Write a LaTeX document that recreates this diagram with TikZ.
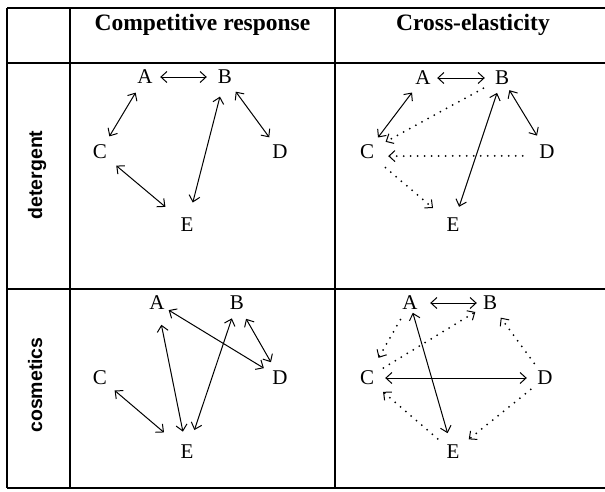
\documentclass[tikz,border=0pt]{standalone}
\usepackage{fontspec}
\setmainfont{Liberation Serif}
\setsansfont{Liberation Sans}
\usetikzlibrary{arrows.meta}
\begin{document}
\begin{tikzpicture}[x=1pt,y=-1pt,
  grid/.style={line width=1.2pt},
  letter/.style={circle,inner sep=0pt,minimum size=36pt,font=\fontsize{21}{25}\selectfont},
  hdr/.style={anchor=base,font=\fontsize{23.5}{28}\selectfont\bfseries},
  side/.style={anchor=base,rotate=90,font=\sffamily\bfseries\fontsize{19.5}{23}\selectfont},
  both/.style={line width=1pt,{Straight Barb[length=6pt,width=11pt]}-{Straight Barb[length=6pt,width=11pt]}},
  dots/.style={line width=2pt,line cap=round,dash pattern=on 0pt off 7pt,-{Straight Barb[length=6pt,width=11pt,line width=1pt]}}
]
\useasboundingbox (0,0) rectangle (605,491);
% table
\draw[grid] (7,8) -- (605,8);
\draw[grid] (7,63) -- (605,63);
\draw[grid] (7,289) -- (605,289);
\draw[grid] (7,488) -- (605,488);
\draw[grid] (7,8) -- (7,488);
\draw[grid] (70,8) -- (70,488);
\draw[grid] (335,8) -- (335,488);
% headers
\node[hdr] (h1) at (202.5,30) {Competitive response};
\node[hdr] (h2) at (473,30) {Cross-elasticity};
\node[side] (s1) at (42,175) {detergent};
\node[side] (s2) at (42,385) {cosmetics};
% panel 1
\node[letter] (p1A) at (145,77) {A};
\node[letter] (p1B) at (225,77) {B};
\node[letter] (p1C) at (100,152) {C};
\node[letter] (p1D) at (280,152) {D};
\node[letter] (p1E) at (187,225) {E};
\draw[both,shorten <=-3pt] (p1A) -- (p1B);
\draw[both] (p1A) -- (p1C);
\draw[both,shorten <=2pt,shorten >=5pt] (p1B) -- (p1E);
\draw[both] (p1B) -- (p1D);
\draw[both,shorten <=3pt,shorten >=10pt] (p1C) -- (p1E);
% panel 2
\node[letter] (p2A) at (423,78) {A};
\node[letter] (p2B) at (502,78) {B};
\node[letter] (p2C) at (367,152) {C};
\node[letter] (p2D) at (547,152) {D};
\node[letter] (p2E) at (453,225) {E};
\draw[both,shorten <=-4pt,shorten >=-1pt] (p2A) -- (p2B);
\draw[both] (p2A) -- (p2C);
\draw[both,shorten <=-4pt,shorten >=1pt] (p2B) -- (p2D);
\draw[both,shorten <=-2.5pt,shorten >=1pt] (p2B) -- (p2E);
\draw[dots,shorten <=3pt,shorten >=3pt] (p2B) -- (p2C);
\draw[dots,shorten <=6.5pt,shorten >=3.5pt] (p2D.192) -- (p2C.-13);
\draw[dots,shorten <=6pt,shorten >=8pt] (p2C) -- (p2E);
% panel 3
\node[letter] (p3A) at (157,303) {A};
\node[letter] (p3B) at (237,303) {B};
\node[letter] (p3C) at (100,378) {C};
\node[letter] (p3D) at (280,378) {D};
\node[letter] (p3E) at (187,452) {E};
\draw[both,shorten <=-4.5pt,shorten >=0.7pt] (p3A) -- (p3D);
\draw[both,shorten <=4pt,shorten >=2.6pt] (p3A) -- (p3E);
\draw[both,shorten <=-2pt,shorten >=5pt] (p3B) -- (p3E);
\draw[both] (p3B) -- (p3D);
\draw[both,shorten <=1pt,shorten >=12pt] (p3C) -- (p3E);
% panel 4
\node[letter] (p4A) at (410,303) {A};
\node[letter] (p4B) at (490,303) {B};
\node[letter] (p4C) at (367,378) {C};
\node[letter] (p4D) at (545,378) {D};
\node[letter] (p4E) at (453,452) {E};
\draw[both,shorten <=2pt,shorten >=-5pt] (p4A) -- (p4B);
\draw[both,shorten <=-8pt,shorten >=1.4pt] (p4A) -- (p4E);
\draw[both] (p4C) -- (p4D);
\draw[dots,shorten <=1pt,shorten >=5pt] (p4A) -- (p4C);
\draw[dots,shorten <=1pt,shorten >=-1pt] (p4C) -- (p4B);
\draw[dots] (p4D) -- (p4B);
\draw[dots,shorten >=2pt] (p4D) -- (p4E);
\draw[dots,shorten <=2pt,shorten >=3pt] (p4E) -- (p4C);
\end{tikzpicture}
\end{document}
